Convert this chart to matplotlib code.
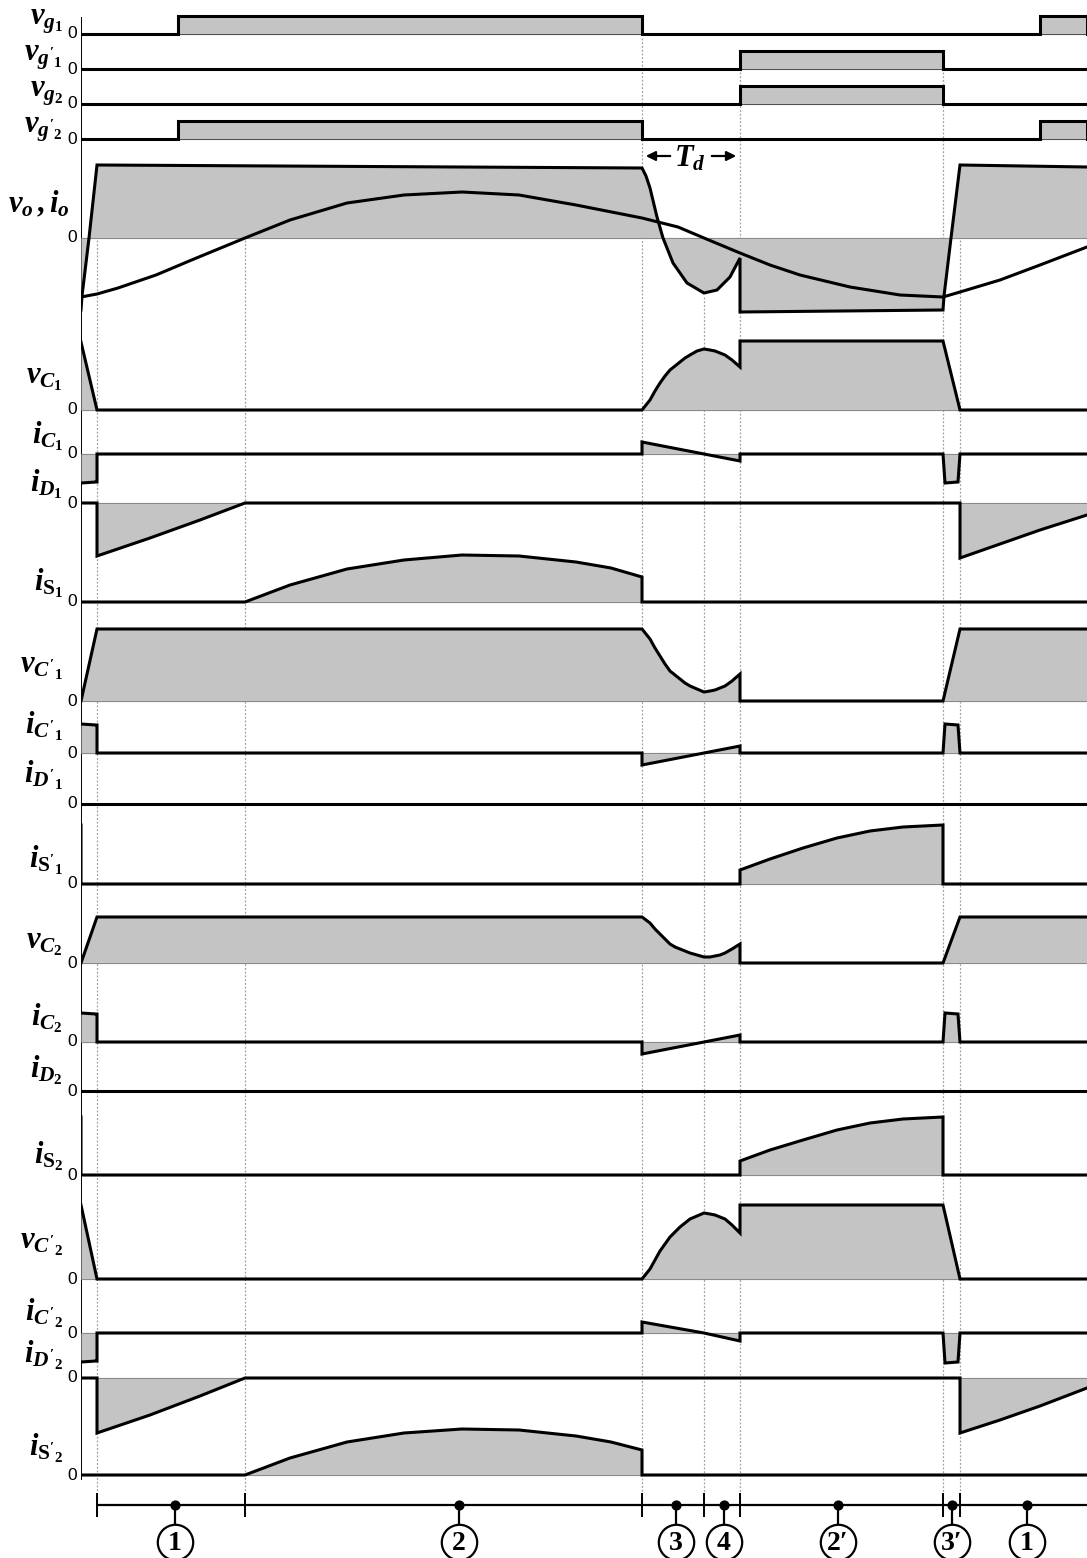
import matplotlib
matplotlib.use('Agg')
import matplotlib.pyplot as plt

plt.rcParams['mathtext.fontset'] = 'custom'
plt.rcParams['mathtext.it'] = 'Liberation Serif:italic:bold'
plt.rcParams['mathtext.rm'] = 'Liberation Serif:bold'
plt.rcParams['mathtext.bf'] = 'Liberation Serif:bold'

W, H = 1087, 1558
X0 = 81          # left edge of the time axis in the picture (px)
T_END = 1006     # length of the time axis (same units as px)

FILL = '#c4c4c4'
LW = 2.2

# ---- timing of the switching modes ----
t_bounds = [16, 164, 561, 623, 659, 862, 879]
mode_names = ['1', '2', '3', '4', '2\u2032', '3\u2032', '1']
mode_pos = [94, 378, 595, 643, 757, 871, 946]

# ---- gate signals (on, off) ----
G_HIGH = 18
vg1_on = [(97, 561), (959, T_END)]
vg1p_on = [(659, 862)]
vg2_on = [(659, 862)]
vg2p_on = [(97, 561), (959, T_END)]

# ---- output voltage / current ----
vo_t = [0, 1, 8, 16, 561, 565, 569, 576, 582, 592, 606, 623, 636, 649, 659, 659, 862, 863, 870, 879, T_END]
vo_v = [-72, -58, 0, 73, 70, 62, 50, 21, 0, -25, -45, -55, -52, -39, -20, -74, -72, -58, 0, 73, 71]
io_t = [0, 16, 37, 75, 113, 164, 209, 266, 323, 381, 438, 495, 561, 597, 623, 659, 689,
        719, 769, 819, 862, 879, 919, 959, T_END]
io_v = [-59, -56, -50, -37, -21, 0, 18, 35, 43, 46, 43, 33, 20, 11, 0, -15, -27,
        -37, -49, -57, -59, -54, -42, -27, -9]

# ---- capacitor voltages ----
vc_t = [0, 16, 561, 565, 569, 574, 579, 584, 589, 594, 599, 604, 609, 616, 623, 629, 634, 639, 644, 651, 659, 659, 862, 879, T_END]
vC1_v = [68, 0, 0, 5, 10, 19, 27, 34, 40, 44, 48, 52, 55, 59, 61, 60, 59, 57, 55, 50, 43, 69, 69, 0, 0]
vC1p_v = [0, 72, 72, 67, 62, 53, 45, 37, 30, 26, 22, 18, 15, 12, 9, 10, 11, 13, 15, 20, 27, 0, 0, 72, 72]
vC2_v = [0, 46, 46, 43, 40, 34, 29, 24, 19, 16, 14, 12, 10, 8, 6, 6, 7, 8, 10, 14, 19, 0, 0, 46, 46]
vC2p_v = [74, 0, 0, 5, 10, 19, 28, 35, 42, 47, 52, 56, 60, 63, 66, 65, 64, 62, 60, 54, 46, 74, 74, 0, 0]

# ---- capacitor currents ----
ic_t = [0, 15, 16, 16, 561, 561, 623, 659, 659, 862, 864, 877, 879, T_END]
iC1_v = [-29, -28, -28, 0, 0, 12, 0, -7, 0, 0, -29, -28, 0, 0]
iC1p_v = [29, 28, 28, 0, 0, -12, 0, 7, 0, 0, 29, 28, 0, 0]
iC2_v = [29, 28, 28, 0, 0, -12, 0, 7, 0, 0, 29, 28, 0, 0]
iC2p_v = [-29, -28, -28, 0, 0, 11, 0, -8, 0, 0, -30, -29, 0, 0]

# ---- diode currents ----
id_t = [0, 16, 16, 69, 119, 164, 879, 879, 919, 959, T_END]
iD1_v = [0, 0, -53, -35, -17, 0, 0, -55, -41, -27, -12]
iD2p_v = [0, 0, -55, -37, -18, 0, 0, -55, -42, -28, -10]

# ---- switch currents ----
is_t = [0, 164, 209, 266, 323, 381, 438, 495, 530, 561, 561, T_END]
iS1_v = [0, 0, 17, 33, 42, 47, 46, 40, 34, 25, 0, 0]
iS2p_v = [0, 0, 17, 33, 42, 46, 45, 39, 33, 25, 0, 0]
isb_t = [0, 0, 659, 659, 689, 722, 756, 789, 822, 862, 862, T_END]
iS1p_v = [59, 0, 0, 14, 25, 36, 46, 53, 57, 59, 0, 0]
iS2_v = [58, 0, 0, 14, 25, 35, 45, 52, 56, 58, 0, 0]

zero_t = [0, T_END]
zero_v = [0, 0]


def gate(intervals):
    t, v = [0], [0]
    for on, off in intervals:
        t += [on, on, off, off]
        v += [0, G_HIGH, G_HIGH, 0]
    t.append(T_END)
    v.append(0)
    return t, v


fig = plt.figure(figsize=(W / 100, H / 100), dpi=100)

# background axes (pixel-like vertical scale) for guides and annotations
bg = fig.add_axes([X0 / W, 0, (W - X0) / W, 1])
bg.set_xlim(0, T_END)
bg.set_ylim(H, 0)
bg.axis('off')

SPAN = 90


def panel(base):
    ax = fig.add_axes([X0 / W, 1 - (base + SPAN) / H, (W - X0) / W, 2 * SPAN / H])
    ax.set_xlim(0, T_END)
    ax.set_ylim(-SPAN, SPAN)
    ax.axis('off')
    return ax


def wave(base, t, v, fill=True):
    ax = panel(base)
    ax.axhline(0, color='#505050', lw=0.8, zorder=1)
    if fill:
        ax.fill_between(t, v, 0, color=FILL, lw=0, zorder=2)
    ax.plot(t, v, color='k', lw=LW, zorder=3, solid_joinstyle='miter')
    return ax


# dotted guide lines
guides = [(16, 240), (164, 240), (561, 38), (623, 297), (659, 72), (862, 72), (879, 240)]
for tg, ytop in guides:
    bg.vlines(tg, ytop, 1516, color='#a0a0a0', lw=0.9, linestyles=(0, (1.5, 1.5)), zorder=0)

# left axis line
bg.vlines(0, 17, 1480, color='k', lw=1.4)

panels = [
    (34, r'$v_{g_1}$', 24, 63) + gate(vg1_on),
    (69, r"$v_{g'_1}$", 60, 63) + gate(vg1p_on),
    (104, r'$v_{g_2}$', 97, 63) + gate(vg2_on),
    (139, r"$v_{g'_2}$", 133, 63) + gate(vg2p_on),
    (238, r'$v_o\,,i_o$', 212, 70, vo_t, vo_v),
    (410, r'$v_{C_1}$', 383, 63, vc_t, vC1_v),
    (454, r'$i_{C_1}$', 443, 63, ic_t, iC1_v),
    (503, r'$i_{D_1}$', 491, 63, id_t, iD1_v),
    (602, r'$i_{\mathrm{S}_1}$', 590, 63, is_t, iS1_v),
    (701, r"$v_{C'_1}$", 672, 63, vc_t, vC1p_v),
    (753, r"$i_{C'_1}$", 733, 63, ic_t, iC1p_v),
    (804, r"$i_{D'_1}$", 782, 63, zero_t, zero_v),
    (884, r"$i_{\mathrm{S}'_1}$", 867, 63, isb_t, iS1p_v),
    (963, r'$v_{C_2}$', 948, 63, vc_t, vC2_v),
    (1042, r'$i_{C_2}$', 1025, 63, ic_t, iC2_v),
    (1091, r'$i_{D_2}$', 1077, 63, zero_t, zero_v),
    (1175, r'$i_{\mathrm{S}_2}$', 1163, 63, isb_t, iS2_v),
    (1279, r"$v_{C'_2}$", 1248, 63, vc_t, vC2p_v),
    (1333, r"$i_{C'_2}$", 1320, 63, ic_t, iC2p_v),
    (1378, r"$i_{D'_2}$", 1362, 63, id_t, iD2p_v),
    (1475, r"$i_{\mathrm{S}'_2}$", 1455, 63, is_t, iS2p_v),
]

for base, label, ylab, xlab, t, v in panels:
    ax = wave(base, t, v)
    if label.startswith(r'$v_o'):
        ax.plot(io_t, io_v, color='k', lw=LW, zorder=4)
    fig.text(xlab / W, 1 - ylab / H, label, ha='right', va='baseline', fontsize=22)
    fig.text(72 / W, 1 - base / H, '0', ha='center', va='center', fontsize=12.5,
             family='Liberation Sans')

# dead time annotation
arrow = dict(arrowstyle='-|>', lw=1.6, color='k', mutation_scale=14)
bg.annotate('', xy=(562, 156), xytext=(592, 156), arrowprops=arrow)
bg.annotate('', xy=(658, 156), xytext=(628, 156), arrowprops=arrow)
bg.text(609, 158, r'$T_d$', ha='center', va='center', fontsize=22)

# mode bar
Y_BAR = 1505
bg.hlines(Y_BAR, t_bounds[0], T_END, color='k', lw=1.6)
bg.vlines(t_bounds, Y_BAR - 12, Y_BAR + 12, color='k', lw=1.4)
bg.vlines(mode_pos, Y_BAR, 1526, color='k', lw=1.6)
bg.scatter(mode_pos, [Y_BAR] * len(mode_pos), s=40, color='k', zorder=5)
bg.scatter(mode_pos, [1542] * len(mode_pos), s=650, facecolor='white',
           edgecolor='k', lw=1.6, zorder=5)
for tp, name in zip(mode_pos, mode_names):
    bg.text(tp, 1543, name, ha='center', va='center', fontsize=20, fontweight='bold',
            family=['Liberation Serif', 'DejaVu Serif'], zorder=6)

fig.savefig('out.png', dpi=100)
